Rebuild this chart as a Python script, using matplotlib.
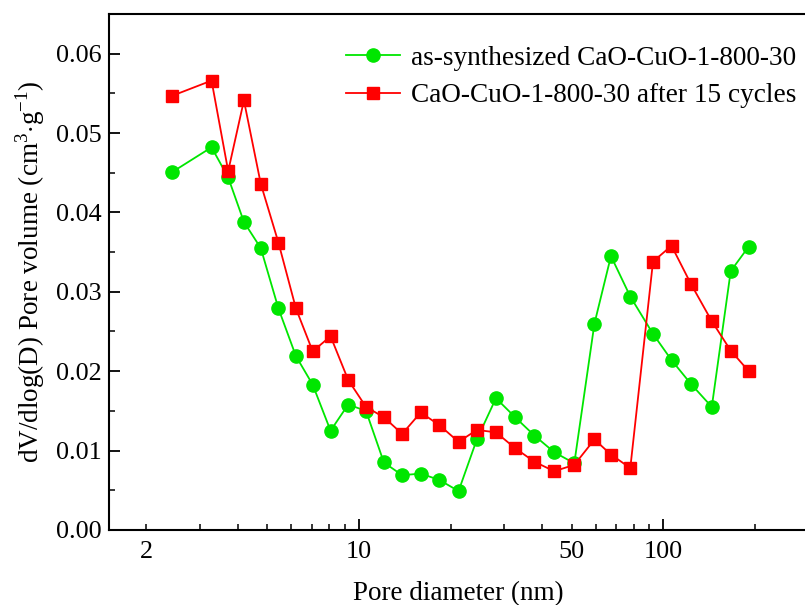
# pore size distribution, fresh vs cycled sorbent
import numpy as np
import matplotlib.pyplot as plt
from matplotlib.ticker import FixedLocator, FuncFormatter, MultipleLocator

plt.rcParams['font.family'] = ['Liberation Serif', 'DejaVu Serif']
plt.rcParams['mathtext.fontset'] = 'custom'
plt.rcParams['mathtext.rm'] = 'Liberation Serif'

# pore diameter (nm), shared by both series
diameter = [2.44, 3.28, 3.72, 4.19, 4.76, 5.44, 6.21, 7.05, 8.07, 9.22,
            10.55, 12.08, 13.87, 15.96, 18.38, 21.25, 24.4, 28.2, 32.6, 37.7,
            43.8, 51.0, 59.4, 67.3, 77.9, 92.5, 106.4, 123.2, 144.3, 166.5, 190.8]

# as-synthesized CaO-CuO-1-800-30
fresh = [0.0451, 0.0482, 0.0444, 0.0388, 0.0355, 0.0279, 0.0219, 0.0183, 0.0125, 0.0158,
         0.0150, 0.0085, 0.0069, 0.0071, 0.0063, 0.0049, 0.0114, 0.0166, 0.0142, 0.0119,
         0.0098, 0.0084, 0.0260, 0.0345, 0.0294, 0.0247, 0.0214, 0.0184, 0.0155, 0.0326, 0.0357]

# after 15 cycles
cycled = [0.0547, 0.0566, 0.0452, 0.0541, 0.0436, 0.0362, 0.0279, 0.0225, 0.0244, 0.0189,
          0.0155, 0.0142, 0.0121, 0.0148, 0.0132, 0.0111, 0.0126, 0.0123, 0.0103, 0.0086,
          0.0074, 0.0082, 0.0114, 0.0095, 0.0078, 0.0338, 0.0358, 0.0310, 0.0263, 0.0226, 0.0200]

labels = ['as-synthesized CaO-CuO-1-800-30', 'CaO-CuO-1-800-30 after 15 cycles']

fig = plt.figure(figsize=(8.05, 6.05), dpi=100)
ax = fig.add_axes([0.1354, 0.124, 0.869, 0.853])

ax.plot(diameter, fresh, '-o', color='#00e600', lw=1.3, ms=9.5, label=labels[0])
ax.plot(diameter, cycled, '-s', color='#ff0000', lw=1.3, ms=8.5, label=labels[1])

ax.set_xscale('log')
ax.set_xlim(1.51, 300)
ax.set_ylim(0, 0.065)

# major ticks at decades, labels only on 2, 10, 50, 100
ax.xaxis.set_major_locator(FixedLocator([10, 100]))
ax.xaxis.set_minor_locator(FixedLocator([2, 3, 4, 5, 6, 7, 8, 9,
                                         20, 30, 40, 50, 60, 70, 80, 90, 200]))
ax.xaxis.set_major_formatter(FuncFormatter(lambda v, p: '%g' % v))
ax.xaxis.set_minor_formatter(FuncFormatter(lambda v, p: '%g' % v if v in (2, 50) else ''))

ax.yaxis.set_major_locator(MultipleLocator(0.01))
ax.yaxis.set_minor_locator(MultipleLocator(0.005))
ax.yaxis.set_major_formatter(FuncFormatter(lambda v, p: '%.2f' % v))

ax.tick_params(which='both', direction='in', labelsize=18.8, top=False, right=False)
ax.tick_params(which='major', length=8, width=1.3, pad=8)
ax.tick_params(which='minor', length=4, width=1.1, pad=8)
ax.tick_params(axis='y', which='both', pad=5)

for s in ax.spines.values():
    s.set_linewidth(1.5)

ax.set_xlabel('Pore diameter (nm)', fontsize=19.5, labelpad=13)
ax.set_ylabel(r'dV/dlog(D) Pore volume (cm$^{3}$$\cdot$g$^{-1}$)', fontsize=19.5, labelpad=7)

ax.legend(loc='upper left', bbox_to_anchor=(0.315, 0.97), frameon=False, fontsize=19.6,
          handlelength=2.0, handletextpad=0.4, labelspacing=0.45, borderaxespad=0.2)

fig.savefig('out.png', dpi=100)
